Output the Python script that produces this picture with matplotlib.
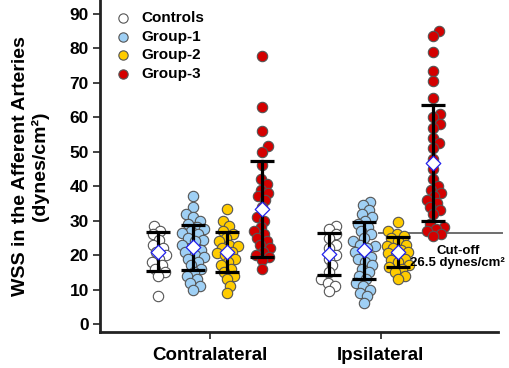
import numpy as np
import matplotlib
matplotlib.use("Agg")
import matplotlib.pyplot as plt

plt.rcParams['font.family'] = ['Liberation Sans', 'DejaVu Sans']

categories = ["Contralateral", "Ipsilateral"]
groups = ["Controls", "Group-1", "Group-2", "Group-3"]

contra_controls = [28.5, 27, 26, 24.5, 23, 22, 21, 20, 19, 18, 17, 16, 15, 14, 8]
contra_g1 = [37, 34, 32, 31, 30, 29, 28, 27.5, 27, 26.5, 26, 25, 24.5, 24, 23, 22,
             21.5, 21, 20, 19.5, 19, 18, 17, 16, 15, 14, 13, 12, 11, 10]
contra_g2 = [33.5, 30, 28.5, 27, 26, 25, 24, 23, 22.5, 22, 21, 20.5, 20, 19, 18, 17,
             16, 15, 14, 13, 11, 9]
contra_g3 = [77.8, 63, 56, 51.5, 50, 46, 42, 40.5, 39, 38, 37, 36, 34, 31, 30, 28, 27,
             26, 25, 24, 23, 22, 21, 20, 19.5, 18.5, 16]
ipsi_controls = [28.5, 27.5, 26, 25, 23, 22, 20, 19, 17, 15, 13, 12, 11, 9.5]
ipsi_g1 = [35.5, 34.5, 33, 32, 31, 30, 29, 28, 27, 26, 25, 24, 23, 22.5, 22, 21, 20,
           19.5, 19, 18, 17, 16, 15, 14, 13, 12, 11, 10, 9, 8, 6]
ipsi_g2 = [29.5, 27, 26, 25.5, 25, 24, 23, 22.5, 22, 21.5, 21, 20.5, 20, 19, 18.5, 18,
           17, 16.5, 16, 15, 14, 13]
ipsi_g3 = [85, 83.5, 79, 73.5, 70.5, 65.5, 61, 60, 58, 57, 54, 52.5, 51, 48, 45, 42, 40,
           39, 38, 37, 36, 35, 34, 33, 32, 29, 28, 27.5, 27, 26, 25.5]

contra_mean = [21.0, 22.3, 21.0, 33.3]
contra_sd = [5.6, 6.5, 5.8, 13.9]
ipsi_mean = [20.3, 21.4, 20.9, 46.7]
ipsi_sd = [6.2, 8.2, 4.3, 16.8]

cutoff = 26.5

colors = ["white", "#9fd0f5", "#ffcc00", "#d40000"]
offsets = [-0.305, -0.1, 0.1, 0.305]

data = [[contra_controls, contra_g1, contra_g2, contra_g3],
        [ipsi_controls, ipsi_g1, ipsi_g2, ipsi_g3]]
means = [contra_mean, ipsi_mean]
sds = [contra_sd, ipsi_sd]

# pixel scales used for the swarm layout
XPX = 171.0
YPX = 3.447


def swarm(vals, dmin=7.3, maxoff=11):
    vals = np.asarray(vals, float)
    order = np.argsort(vals)
    placed = []
    xs = np.zeros(len(vals))
    for i in order:
        y = vals[i] * YPX
        best, best_gap = 0.0, -1.0
        for k in range(0, maxoff + 1):
            done = False
            for s in ([0] if k == 0 else [1, -1]):
                cand = s * k * 1.0
                gap = min([np.hypot(cand - px, y - py) for px, py in placed] or [99])
                if gap >= dmin:
                    best, done = cand, True
                    break
                if gap > best_gap:
                    best, best_gap = cand, gap
            if done:
                break
        placed.append((best, y))
        xs[i] = best / XPX
    return xs


fig = plt.figure(figsize=(5.1, 3.68), dpi=100)
ax = fig.add_axes([0.196, 0.098, 0.780, 0.902])

for c in range(2):
    for g in range(4):
        vals = data[c][g]
        x0 = c + 1 + offsets[g]
        xs = x0 + swarm(vals)
        ax.scatter(xs, vals, s=56, c=colors[g], edgecolors="#555555",
                   linewidths=0.8, zorder=2)
        ax.errorbar(x0, means[c][g], yerr=sds[c][g], fmt="none", ecolor="black",
                    elinewidth=2.3, capsize=8.5, capthick=2.3, zorder=3)
        ax.scatter([x0], [means[c][g]], marker="D", s=55, c="white",
                   edgecolors="#2222ee", linewidths=0.9, zorder=4)

ax.plot([1.988, 2.71], [cutoff, cutoff], color="#6e6e6e", lw=1.4, zorder=1,
        clip_on=False)
ax.text(2.45, 19.3, "Cut-off\n26.5 dynes/cm²", ha="center", va="center",
        fontsize=9.5, fontweight="bold", linespacing=1.0)

for g in range(4):
    ax.scatter([], [], s=45, c=colors[g], edgecolors="#555555", linewidths=0.8,
               label=groups[g])
leg = ax.legend(loc="upper left", bbox_to_anchor=(0.005, 0.985), frameon=False,
                prop={"weight": "bold", "size": 11}, handletextpad=0.15,
                labelspacing=0.3, borderaxespad=0.0)

ax.set_xlim(0.357, 2.684)
ax.set_ylim(-2.3, 94)
ax.set_yticks(range(0, 91, 10))
ax.set_xticks([1, 2])
ax.set_xticklabels(categories, fontsize=13.5, fontweight="bold")
for t in ax.get_yticklabels():
    t.set_fontweight("bold")
    t.set_fontsize(12.5)
ax.tick_params(axis="both", direction="out", length=5, width=1.3, color="#333333")
ax.tick_params(axis="x", pad=6)
ax.tick_params(axis="y", pad=3)

ax.spines["top"].set_visible(False)
ax.spines["right"].set_visible(False)
for s in ["left", "bottom"]:
    ax.spines[s].set_linewidth(2.0)
    ax.spines[s].set_color("#222222")

ax.set_ylabel("WSS in the Afferent Arteries\n(dynes/cm²)", fontsize=14,
              fontweight="bold", labelpad=15, linespacing=1.1)

fig.savefig("out.png", dpi=100)
